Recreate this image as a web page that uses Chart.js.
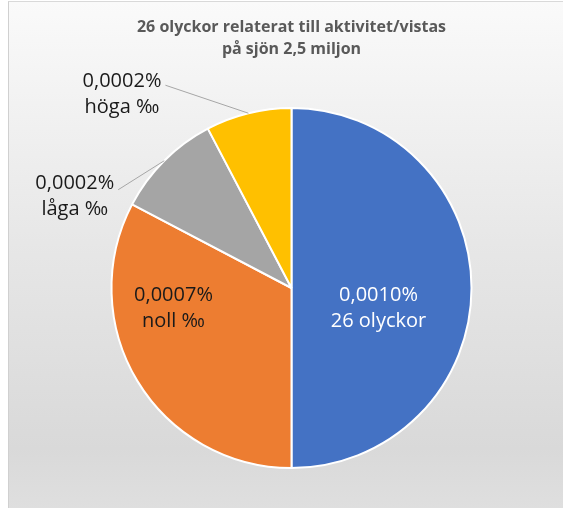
<!DOCTYPE html>
<html>
<head>
<meta charset="utf-8">
<script src="https://cdn.jsdelivr.net/npm/chart.js@4"></script>
<style>
  html, body { margin: 0; padding: 0; background: #fff; }
  #box {
    position: absolute; left: 8px; top: 1px; width: 554px; height: 507px;
    border-top: 1px solid #d9d9d9; border-left: 1px solid #d0d0d0;
    background: linear-gradient(#fafafa 0%, #e6e6e6 50%, #d9d9d9 88%, #dfdfdf 100%);
  }
</style>
</head>
<body>
<div id="box"><canvas id="pie" width="554" height="507"></canvas></div>
<script>
document.addEventListener('DOMContentLoaded', () => {
  const titleLines = ['26 olyckor relaterat till aktivitet/vistas', 'på sjön 2,5 miljon'];
  const categories = ['26 olyckor', 'noll ‰', 'låga ‰', 'höga ‰'];
  const counts = [26, 17, 5, 4];
  const percentLabels = ['0,0010%', '0,0007%', '0,0002%', '0,0002%'];
  const colors = ['#4472c4', '#ed7d31', '#a5a5a5', '#ffc000'];

  // where each label sits: inside slices relative to centre, outside ones offset from the edge
  const labelPlacement = [
    {inside: true, dx: 87, dy: 20, color: '#ffffff'},
    {inside: true, dx: -118, dy: 20, color: '#1a1a1a'},
    {inside: false, dx: -46, dy: 29, color: '#1a1a1a'},
    {inside: false, dx: -83, dy: -28, color: '#1a1a1a'}
  ];

  const labelPlugin = {
    id: 'sliceLabels',
    afterDatasetsDraw(chart) {
      const ctx = chart.ctx;
      const arcs = chart.getDatasetMeta(0).data;
      ctx.save();
      ctx.font = '20px "Open Sans"';
      ctx.textBaseline = 'middle';
      ctx.textAlign = 'center';
      arcs.forEach((arc, i) => {
        const p = labelPlacement[i];
        const lines = [percentLabels[i], categories[i]];
        let tx, ty;
        if (p.inside) {
          tx = arc.x + p.dx;
          ty = arc.y + p.dy;
        } else {
          const mid = (arc.startAngle + arc.endAngle) / 2;
          const ex = arc.x + Math.cos(mid) * arc.outerRadius;
          const ey = arc.y + Math.sin(mid) * arc.outerRadius;
          const sx = ex + p.dx, sy = ey + p.dy;
          ctx.strokeStyle = '#a6a6a6';
          ctx.lineWidth = 1;
          ctx.beginPath();
          ctx.moveTo(sx, sy);
          ctx.lineTo(ex, ey);
          ctx.stroke();
          const w = Math.max(...lines.map(l => ctx.measureText(l).width));
          tx = sx - 4 - w / 2;
          ty = sy + (i === 2 ? 7 : 9);
        }
        ctx.fillStyle = p.color;
        ctx.fillText(lines[0], tx, ty - 13);
        ctx.fillText(lines[1], tx, ty + 13);
      });
      ctx.restore();
    }
  };

  new Chart(document.getElementById('pie').getContext('2d'), {
    type: 'pie',
    data: {
      labels: categories,
      datasets: [{
        data: counts,
        backgroundColor: colors,
        borderColor: '#ffffff',
        borderWidth: 2
      }]
    },
    options: {
      responsive: false,
      animation: false,
      layout: { padding: { top: 0, bottom: 40, left: 11, right: 0 } },
      plugins: {
        legend: { display: false },
        tooltip: { enabled: false },
        title: {
          display: true,
          text: titleLines,
          color: '#595959',
          font: { family: '"Open Sans"', size: 16, weight: 'bold', lineHeight: 1.375 },
          padding: { top: 14, bottom: 47 }
        }
      }
    },
    plugins: [labelPlugin]
  });
});
</script>
</body>
</html>
